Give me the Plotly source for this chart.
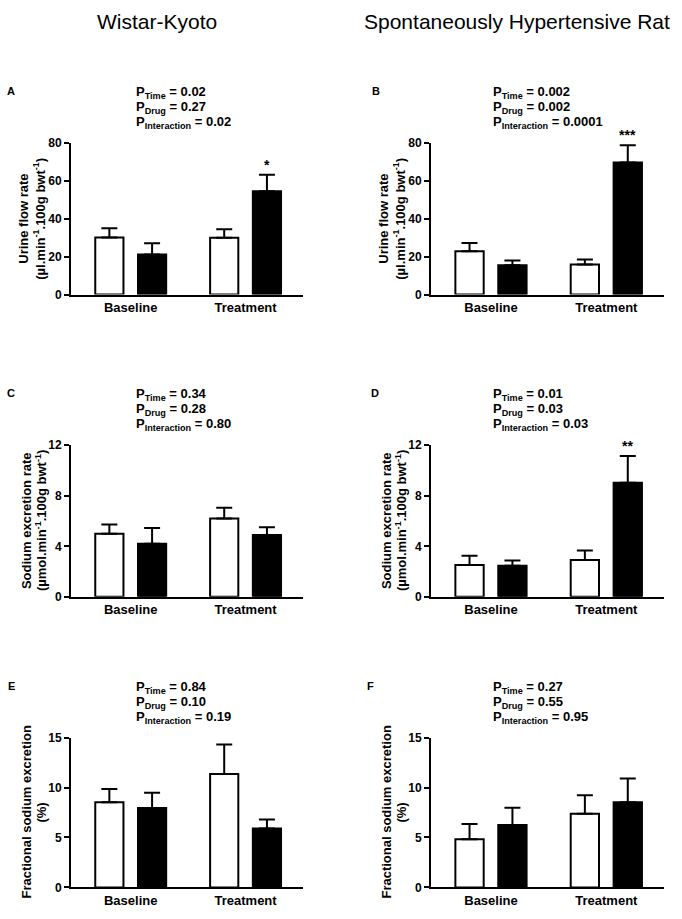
import plotly.graph_objects as go

categories = ["Baseline", "Treatment"]
column_titles = ["Wistar-Kyoto", "Spontaneously Hypertensive Rat"]
panel_letters = ["A", "B", "C", "D", "E", "F"]

# Urine flow rate (µl.min-1.100g bwt-1)
wky_urine_open = [30.1, 30.0]
wky_urine_open_sem = [4.9, 4.5]
wky_urine_filled = [21.1, 54.5]
wky_urine_filled_sem = [5.9, 8.7]
shr_urine_open = [22.9, 15.8]
shr_urine_open_sem = [4.3, 2.7]
shr_urine_filled = [15.4, 69.6]
shr_urine_filled_sem = [2.6, 9.2]

# Sodium excretion rate (µmol.min-1.100g bwt-1)
wky_na_open = [5.0, 6.2]
wky_na_open_sem = [0.73, 0.86]
wky_na_filled = [4.2, 4.9]
wky_na_filled_sem = [1.25, 0.6]
shr_na_open = [2.52, 2.91]
shr_na_open_sem = [0.73, 0.75]
shr_na_filled = [2.47, 9.04]
shr_na_filled_sem = [0.41, 2.1]

# Fractional sodium excretion (%)
wky_fe_open = [8.54, 11.35]
wky_fe_open_sem = [1.31, 2.96]
wky_fe_filled = [7.96, 5.9]
wky_fe_filled_sem = [1.53, 0.91]
shr_fe_open = [4.83, 7.37]
shr_fe_open_sem = [1.53, 1.86]
shr_fe_filled = [6.26, 8.54]
shr_fe_filled_sem = [1.73, 2.38]

# P values per panel: Time, Drug, Interaction
p_values = [
    ["0.02", "0.27", "0.02"],
    ["0.002", "0.002", "0.0001"],
    ["0.34", "0.28", "0.80"],
    ["0.01", "0.03", "0.03"],
    ["0.84", "0.10", "0.19"],
    ["0.27", "0.55", "0.95"],
]
p_labels = ["Time", "Drug", "Interaction"]

# significance marks on the treatment filled bar
stars = ["*", "***", "", "**", "", ""]

y_title_lines = [
    ["Urine flow rate", "(µl.min<sup>-1</sup>.100g bwt<sup>-1</sup>)"],
    ["Sodium excretion rate", "(µmol.min<sup>-1</sup>.100g bwt<sup>-1</sup>)"],
    ["Fractional sodium excretion", "(%)"],
]
y_ranges = [[0, 80], [0, 12], [0, 15]]
y_ticks = [[0, 20, 40, 60, 80], [0, 4, 8, 12], [0, 5, 10, 15]]

panels = [
    (wky_urine_open, wky_urine_open_sem, wky_urine_filled, wky_urine_filled_sem),
    (shr_urine_open, shr_urine_open_sem, shr_urine_filled, shr_urine_filled_sem),
    (wky_na_open, wky_na_open_sem, wky_na_filled, wky_na_filled_sem),
    (shr_na_open, shr_na_open_sem, shr_na_filled, shr_na_filled_sem),
    (wky_fe_open, wky_fe_open_sem, wky_fe_filled, wky_fe_filled_sem),
    (shr_fe_open, shr_fe_open_sem, shr_fe_filled, shr_fe_filled_sem),
]

W, H = 682, 919
FONT = "Arial, 'Liberation Sans', sans-serif"

col_px = [(71, 303), (431, 664)]
row_px = [(138, 292), (445, 599), (742, 894)]  # (top, bottom)
header_x = [157, 517]
p_text_x = [134, 491]
letter_x = [[11, 376], [11, 375], [11, 370]]
title_dx = [[-47, -32], [-45, -30], [-44, -29]]

BARGAP = 0.256
BARGROUPGAP = 0.34
offset = (1 - BARGAP) / 4.0

fig = go.Figure()
annotations = []

for i, (o, osem, f, fsem) in enumerate(panels):
    r, c = divmod(i, 2)
    n = i + 1
    xa = "x" if n == 1 else f"x{n}"
    ya = "y" if n == 1 else f"y{n}"
    for vals, sem, fill in [(o, osem, "white"), (f, fsem, "black")]:
        fig.add_trace(go.Bar(
            x=categories, y=vals, xaxis=xa, yaxis=ya,
            marker=dict(color=fill, line=dict(color="black", width=2)),
            error_y=dict(type="data", array=sem, arrayminus=[0] * len(sem),
                         symmetric=False, color="black", thickness=2, width=8),
            showlegend=False, hoverinfo="skip",
        ))
    x0, x1 = col_px[c]
    top, bot = row_px[r]
    fig.layout[f"xaxis{'' if n == 1 else n}"] = dict(
        domain=[x0 / W, x1 / W], anchor=ya, range=[-0.52, 1.5],
        showline=True, linecolor="black", linewidth=2, ticks="",
        tickfont=dict(family=FONT, size=13, color="black", weight="bold"),
        showgrid=False, zeroline=False, fixedrange=True,
    )
    fig.layout[f"yaxis{'' if n == 1 else n}"] = dict(
        domain=[1 - bot / H, 1 - top / H], anchor=xa, range=y_ranges[r],
        tickvals=y_ticks[r], showline=True, linecolor="black", linewidth=2,
        ticks="outside", ticklen=5, tickwidth=2, tickcolor="black",
        tickfont=dict(family=FONT, size=12, color="black", weight="bold"),
        showgrid=False, zeroline=False, fixedrange=True,
    )
    # y title, two lines
    for line, dx in zip(y_title_lines[r], title_dx[r]):
        annotations.append(dict(
            text=f"<b>{line}</b>", textangle=-90, xref="paper", yref="paper",
            x=(x0 + dx) / W, y=1 - (top + bot) / 2 / H,
            xanchor="center", yanchor="middle",
            showarrow=False, font=dict(family=FONT, size=13, color="black"),
        ))
    # panel letter
    annotations.append(dict(
        text=f"<b>{panel_letters[i]}</b>", xref="paper", yref="paper",
        x=letter_x[r][c] / W, y=1 - (top - 53) / H,
        xanchor="center", yanchor="middle", showarrow=False,
        font=dict(family=FONT, size=11, color="black"),
    ))
    # P values
    for k in range(3):
        annotations.append(dict(
            text=f"<b>P<sub>{p_labels[k]}</sub> = {p_values[i][k]}</b>",
            xref="paper", yref="paper", x=p_text_x[c] / W,
            y=1 - (top - 51 + k * 15) / H, xanchor="left", yanchor="middle",
            showarrow=False, font=dict(family=FONT, size=13, color="black"),
        ))
    # significance stars
    if stars[i]:
        annotations.append(dict(
            text=f"<b>{stars[i]}</b>", xref=xa, yref=ya,
            x=1 + offset, y=f[1] + fsem[1], xanchor="center", yanchor="bottom",
            showarrow=False, font=dict(family=FONT, size=14, color="black"),
        ))

for c, t in enumerate(column_titles):
    annotations.append(dict(
        text=t, xref="paper", yref="paper", x=header_x[c] / W, y=1 - 15 / H,
        xanchor="center", yanchor="middle", showarrow=False,
        font=dict(family=FONT, size=21, color="black"),
    ))

fig.update_layout(
    width=W, height=H, margin=dict(l=0, r=0, t=0, b=0),
    paper_bgcolor="white", plot_bgcolor="white",
    barmode="group", bargap=BARGAP, bargroupgap=BARGROUPGAP,
    showlegend=False, annotations=annotations, hovermode=False,
)

fig.write_html(
    "out.html",
    config={"displayModeBar": False},
    post_script=(
        "document.documentElement.style.margin='0';"
        "document.documentElement.style.padding='0';"
        "document.documentElement.style.overflow='hidden';"
        "document.body.style.margin='0';"
        "document.body.style.padding='0';"
        "document.body.style.overflow='hidden';"
        "var gd=document.querySelector('.plotly-graph-div');"
        "gd.style.position='fixed';gd.style.top='0';gd.style.left='0';"
        "window.scrollTo(0,0);"
    ),
)
